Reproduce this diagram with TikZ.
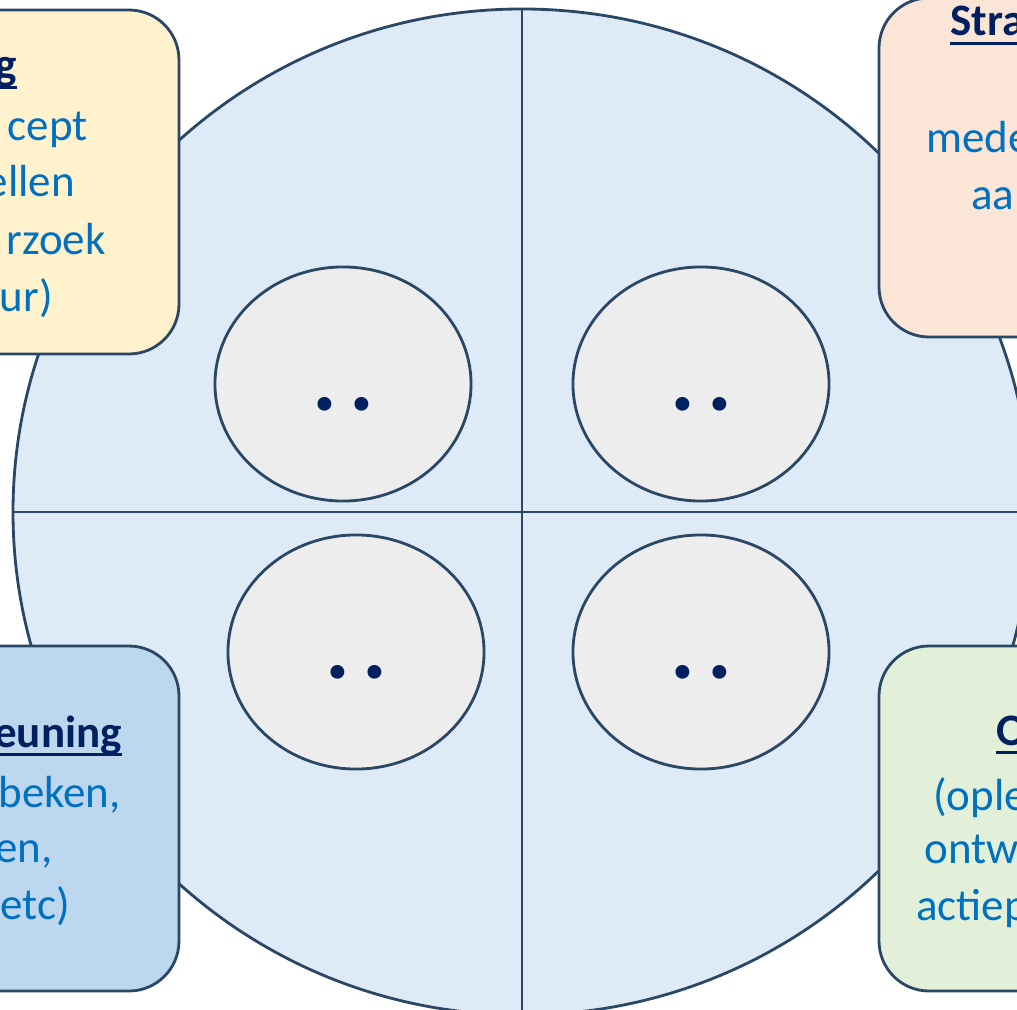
\documentclass[tikz,border=0pt]{standalone}
\usepackage{fontspec}
\setmainfont{Carlito}
\usetikzlibrary{shapes.geometric}

\definecolor{rim}{HTML}{2B4766}
\definecolor{disc}{HTML}{DEEAF6}
\definecolor{seed}{HTML}{EDEDED}
\definecolor{cardyellow}{HTML}{FFF2CC}
\definecolor{cardpeach}{HTML}{FBE5D6}
\definecolor{cardblue}{HTML}{BDD7EE}
\definecolor{cardgreen}{HTML}{E2F0D9}
\definecolor{bodyblue}{HTML}{0070C0}
\definecolor{titlenavy}{HTML}{002060}

% underlined heading word
\newcommand{\ulword}[1]{\setbox0\hbox{#1}\rlap{\rule[-0.2em]{\wd0}{0.07em}}\box0}

\tikzset{
    rim line/.style={draw=rim, line width=2pt},
    card/.style={rim line, rounded corners=1.25cm},
    seedshape/.style={ellipse, rim line, fill=seed, inner sep=0pt,
        minimum width=6.4cm, minimum height=5.85cm},
    dots/.style={text=titlenavy, font=\fontsize{66pt}{70pt}\selectfont\bfseries, inner sep=0pt},
    body/.style={text=bodyblue, font=\fontsize{32pt}{40pt}\selectfont, inner sep=0pt},
    head/.style={body, text=titlenavy, font=\fontsize{32pt}{40pt}\selectfont\bfseries},
}

\begin{document}
\begin{tikzpicture}[x=0.025cm,y=-0.025cm]
    \useasboundingbox (0,0) rectangle (1017,1010);
    \clip (0,0) rectangle (1017,1010);

    % the disc and its four quarters
    \coordinate (mid) at (522,512);
    \draw[rim line, fill=disc] (mid) ellipse [x radius=509, y radius=503];
    \draw[rim line] (522,9) -- (522,1015);
    \draw[rim line] (13,512) -- (1031,512);

    % one ellipse per quarter
    \node[seedshape] (seedA) at (343,384) {};
    \node[seedshape] (seedB) at (701,384) {};
    \node[seedshape] (seedC) at (356,652) {};
    \node[seedshape] (seedD) at (701,652) {};
    \foreach \s in {seedA,seedB,seedC,seedD}
        \node[dots] (\s-dots) at ([shift={(0.5,20)}]\s.center) {.\kern0.14em.};

    % corner cards
    \draw[card, fill=cardyellow] (-100,10) rectangle (179,354);
    \draw[card, fill=cardpeach] (879,-2) rectangle (1100,337);
    \draw[card, fill=cardblue] (-100,646) rectangle (179,991);
    \draw[card, fill=cardgreen] (879,646) rectangle (1100,991);

    % top left card
    \node[head, anchor=base east] (tlhead) at (17,80) {\ulword{g}};
    \foreach \x/\y/\t [count=\i] in {88/141/cept, 75/197/ellen, 106/255/rzoek, 53/312/ur)}
        \node[body, anchor=base east] (tl\i) at (\x,\y) {\t};

    % top right card
    \node[head, anchor=base west] (trhead) at (950,36) {\ulword{Stra}};
    \node[body, anchor=base west] (tr1) at (926,153) {mede};
    \node[body, anchor=base west] (tr2) at (971,210) {aa};

    % bottom left card
    \node[head, anchor=base east] (blhead) at (122,747) {\ulword{euning}};
    \foreach \x/\y/\t [count=\i] in {121/807/{beken,}, 53/862/{en,}, 70/919/etc)}
        \node[body, anchor=base east] (bl\i) at (\x,\y) {\t};

    % bottom right card
    \node[head, anchor=base west] (brhead) at (996,745) {\ulword{O}};
    \foreach \x/\y/\t [count=\i] in {933/810/(ople, 924/863/ontw, 916/920/actiep}
        \node[body, anchor=base west] (br\i) at (\x,\y) {\t};
\end{tikzpicture}
\end{document}
